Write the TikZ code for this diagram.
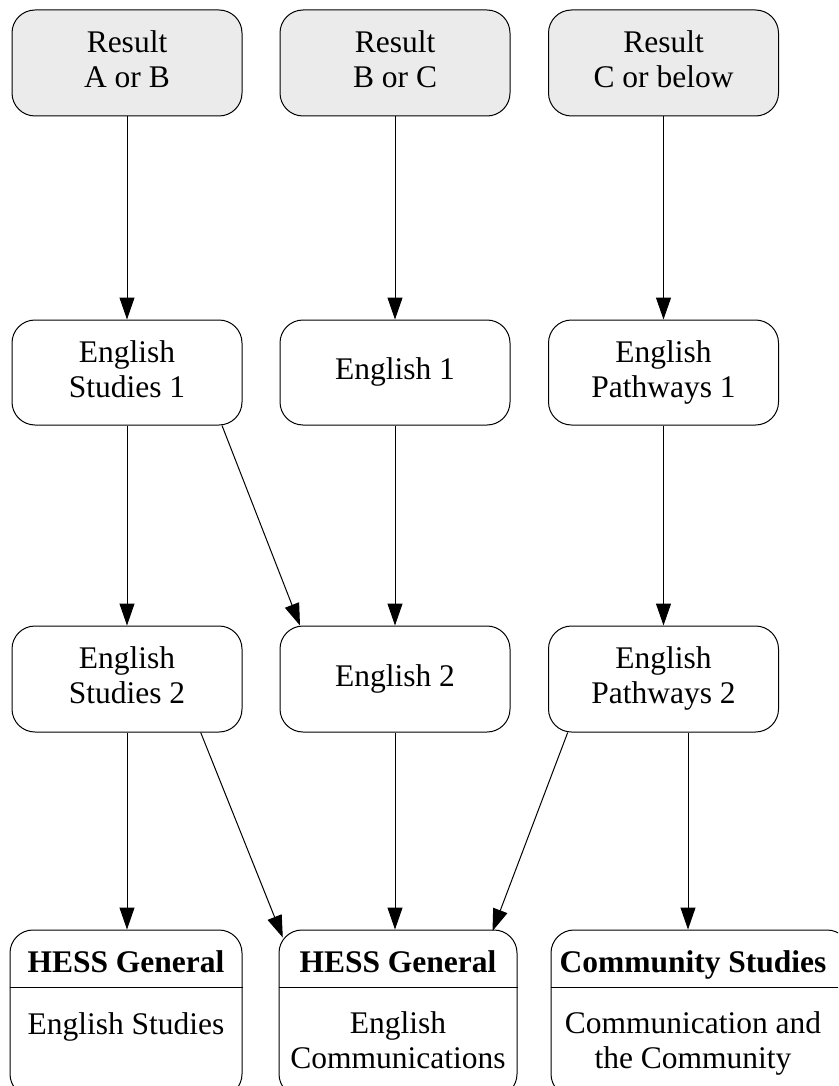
\documentclass[tikz,border=0pt]{standalone}
\usepackage{fontspec}
\setmainfont{Liberation Serif}
\usetikzlibrary{arrows.meta}
\definecolor{resultfill}{RGB}{235,235,235}
\begin{document}
\begin{tikzpicture}[x=1pt,y=-1pt,
  every node/.style={font=\fontsize{31.5}{35}\selectfont},
  box/.style={draw, rounded corners=23pt, line width=1pt, minimum width=230pt, minimum height=106pt, align=center, inner sep=0pt},
  resultbox/.style={box, fill=resultfill},
  rec/.style={draw, rounded corners=23pt, line width=1pt, inner sep=0pt, minimum height=167pt},
  lbl/.style={align=center, inner sep=0pt},
  ttl/.style={lbl, font=\fontsize{31.5}{35}\selectfont\bfseries},
  arr/.style={line width=1pt, -{Triangle[length=22pt,width=15pt]}}]
\useasboundingbox (0,0) rectangle (838,1086);
\clip (0,0) rectangle (838,1086);

% row 1
\node[resultbox] (r1a) at (127,63) {\strut Result\\A or B\strut};
\node[resultbox] (r1b) at (395,63) {\strut Result\\B or C\strut};
\node[resultbox] (r1c) at (663.5,63) {\strut Result\\C or below\strut};
% row 2
\node[box, minimum height=105pt] (r2a) at (127,372.5) {\strut English\\Studies 1\strut};
\node[box, minimum height=105pt] (r2b) at (395,372.5) {English 1\strut};
\node[box, minimum height=105pt] (r2c) at (663.5,372.5) {\strut English\\Pathways 1\strut};
% row 3
\node[box] (r3a) at (127,679) {\strut English\\Studies 2\strut};
\node[box] (r3b) at (395,679) {English 2\strut};
\node[box] (r3c) at (663.5,679) {\strut English\\Pathways 2\strut};
% row 4
\node[rec, minimum width=232pt] (hA) at (126,1013.5) {};
\node[rec, minimum width=238pt] (hB) at (398,1013.5) {};
\node[rec, minimum width=299pt] (hC) at (700.5,1013.5) {};
\draw[line width=1pt] ([yshift=-58pt]hA.north west) -- ([yshift=-58pt]hA.north east);
\draw[line width=1pt] ([yshift=-58pt]hB.north west) -- ([yshift=-58pt]hB.north east);
\draw[line width=1pt] ([yshift=-58pt]hC.north west) -- ([yshift=-58pt]hC.north east);
\node[ttl] (tA) at ([yshift=-36pt]hA.north) {HESS General\strut};
\node[lbl] (bA) at ([yshift=-98pt]hA.north) {English Studies\strut};
\node[ttl] (tB) at ([yshift=-36pt]hB.north) {HESS General\strut};
\node[lbl] (bB) at ([yshift=-114.5pt]hB.north) {\strut English\\Communications\strut};
\node[ttl] (tC) at ([xshift=-7.5pt,yshift=-36pt]hC.north) {Community Studies\strut};
\node[lbl] (bC) at ([xshift=-7.5pt,yshift=-114.5pt]hC.north) {\strut Communication and\\the Community\strut};

% connectors
\draw[arr] (r1a) -- (r2a);
\draw[arr] (r1b) -- (r2b);
\draw[arr] (r1c) -- (r2c);
\draw[arr] (r2a) -- (r3a);
\draw[arr] ([xshift=95pt]r2a.south) -- ([xshift=-95pt]r3b.north);
\draw[arr] (r2b) -- (r3b);
\draw[arr] (r2c) -- (r3c);
\draw[arr] (r3a.south) -- (r3a.south |- hA.north);
\draw[arr] ([xshift=73.7pt]r3a.south) -- ([xshift=4.3pt,yshift=-8pt]hB.north west);
\draw[arr] (r3b.south) -- (r3b.south |- hB.north);
\draw[arr] ([xshift=-95.8pt]r3c.south) -- ([xshift=-25pt,yshift=-1.5pt]hB.north east);
\draw[arr] ([xshift=24.5pt]r3c.south) -- ([xshift=24.5pt]r3c.south |- hC.north);
\end{tikzpicture}
\end{document}
